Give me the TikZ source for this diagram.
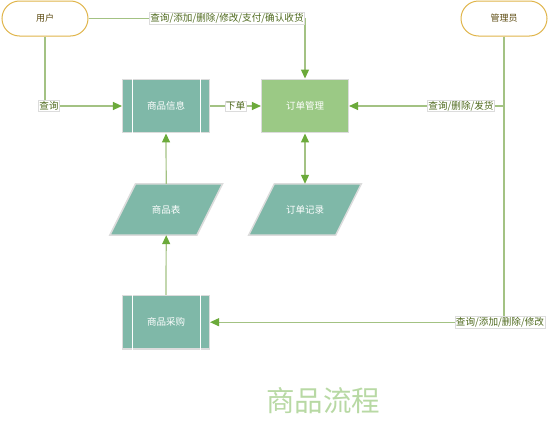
\documentclass[tikz,border=0pt]{standalone}
\usepackage{fontspec}
\setmainfont{Noto Sans CJK SC}
\usetikzlibrary{arrows.meta}
\definecolor{teal}{HTML}{7FB8A8}
\definecolor{greenbox}{HTML}{9BC985}
\definecolor{boxborder}{HTML}{DCDCDC}
\definecolor{termborder}{HTML}{E0B54A}
\definecolor{linecol}{HTML}{A3C283}
\definecolor{tipcol}{HTML}{6BAA3A}
\definecolor{labeltext}{HTML}{4F6A1E}
\definecolor{termtext}{HTML}{5C4A10}
\definecolor{titlecol}{HTML}{B8D9A4}
\tikzset{
  term/.style={draw=termborder,line width=1pt,fill=white,rounded corners=17.5pt,
    minimum width=86pt,minimum height=35pt,font=\fontsize{9}{10}\selectfont,text=termtext},
  proc/.style={draw=boxborder,line width=1.5pt,fill=teal,minimum width=86.6pt,
    minimum height=53.4pt,font=\fontsize{9.5}{11}\selectfont,text=white},
  mainbox/.style={proc,fill=greenbox},
  paraanchor/.style={minimum width=112.3pt,minimum height=51pt,inner sep=0pt,
    font=\fontsize{9.5}{11}\selectfont,text=white},
  conn/.style={draw=linecol,line width=1.2pt},
  tip/.style={-{Triangle[length=9pt,width=8pt,color=tipcol,fill=tipcol]}},
  lbl/.style={fill=white,draw=boxborder,line width=0.6pt,inner sep=0.8pt,
    font=\fontsize{9.6}{10}\selectfont,text=labeltext}
}
\begin{document}
\begin{tikzpicture}[x=1pt,y=-1pt]
\useasboundingbox (0,0) rectangle (554,423);
% nodes
\node[term] (user) at (45,18.5) {用户};
\node[term] (admin) at (504,18.5) {管理员};
\node[proc] (info) at (166,106) {商品信息};
\node[mainbox] (order) at (305,106) {订单管理};
\node[proc] (purchase) at (166,322.2) {商品采购};
\foreach \n in {info,purchase}{
  \draw[white,line width=1pt] ([xshift=10.6pt]\n.north west) -- ([xshift=10.6pt]\n.south west);
  \draw[white,line width=1pt] ([xshift=-10pt]\n.north east) -- ([xshift=-10pt]\n.south east);
}
\node[paraanchor] (table) at (166.2,209.5) {};
\node[paraanchor] (record) at (305,209.5) {};
\foreach \n in {table,record}{
  \draw[draw=boxborder,line width=1.5pt,fill=teal]
    ([xshift=25.7pt]\n.north west) -- (\n.north east) -- ([xshift=-25.7pt]\n.south east) -- (\n.south west) -- cycle;
}
\node[paraanchor] at (table) {商品表};
\node[paraanchor] at (record) {订单记录};
% connectors
\draw[conn,tip] (user.east) -| (order.north);
\node[lbl] (l1) at (227,18.5) {查询/添加/删除/修改/支付/确认收货};
\draw[conn,tip] (user.south) |- (info.west);
\node[lbl] (l2) at (49,106) {查询};
\draw[conn,tip] (info.east) -- (order.west) node[lbl,midway] (l3) {下单};
\draw[conn,tip] (admin.south) |- (order.east);
\node[lbl] (l4) at (461,106) {查询/删除/发货};
\draw[conn,tip] (admin.south) |- (purchase.east);
\node[lbl] (l5) at (500,322.2) {查询/添加/删除/修改};
\draw[conn,{Triangle[length=9pt,width=8pt,color=tipcol,fill=tipcol]}-{Triangle[length=9pt,width=8pt,color=tipcol,fill=tipcol]}] (order.south) -- (record.north);
\draw[conn,tip] (table.north) -- (info.south);
\draw[conn,tip] (purchase.north) -- (table.south);
% title
\node[text=titlecol,font=\fontsize{28.5}{31}\selectfont] (title) at (323,401) {商品流程};
\end{tikzpicture}
\end{document}
